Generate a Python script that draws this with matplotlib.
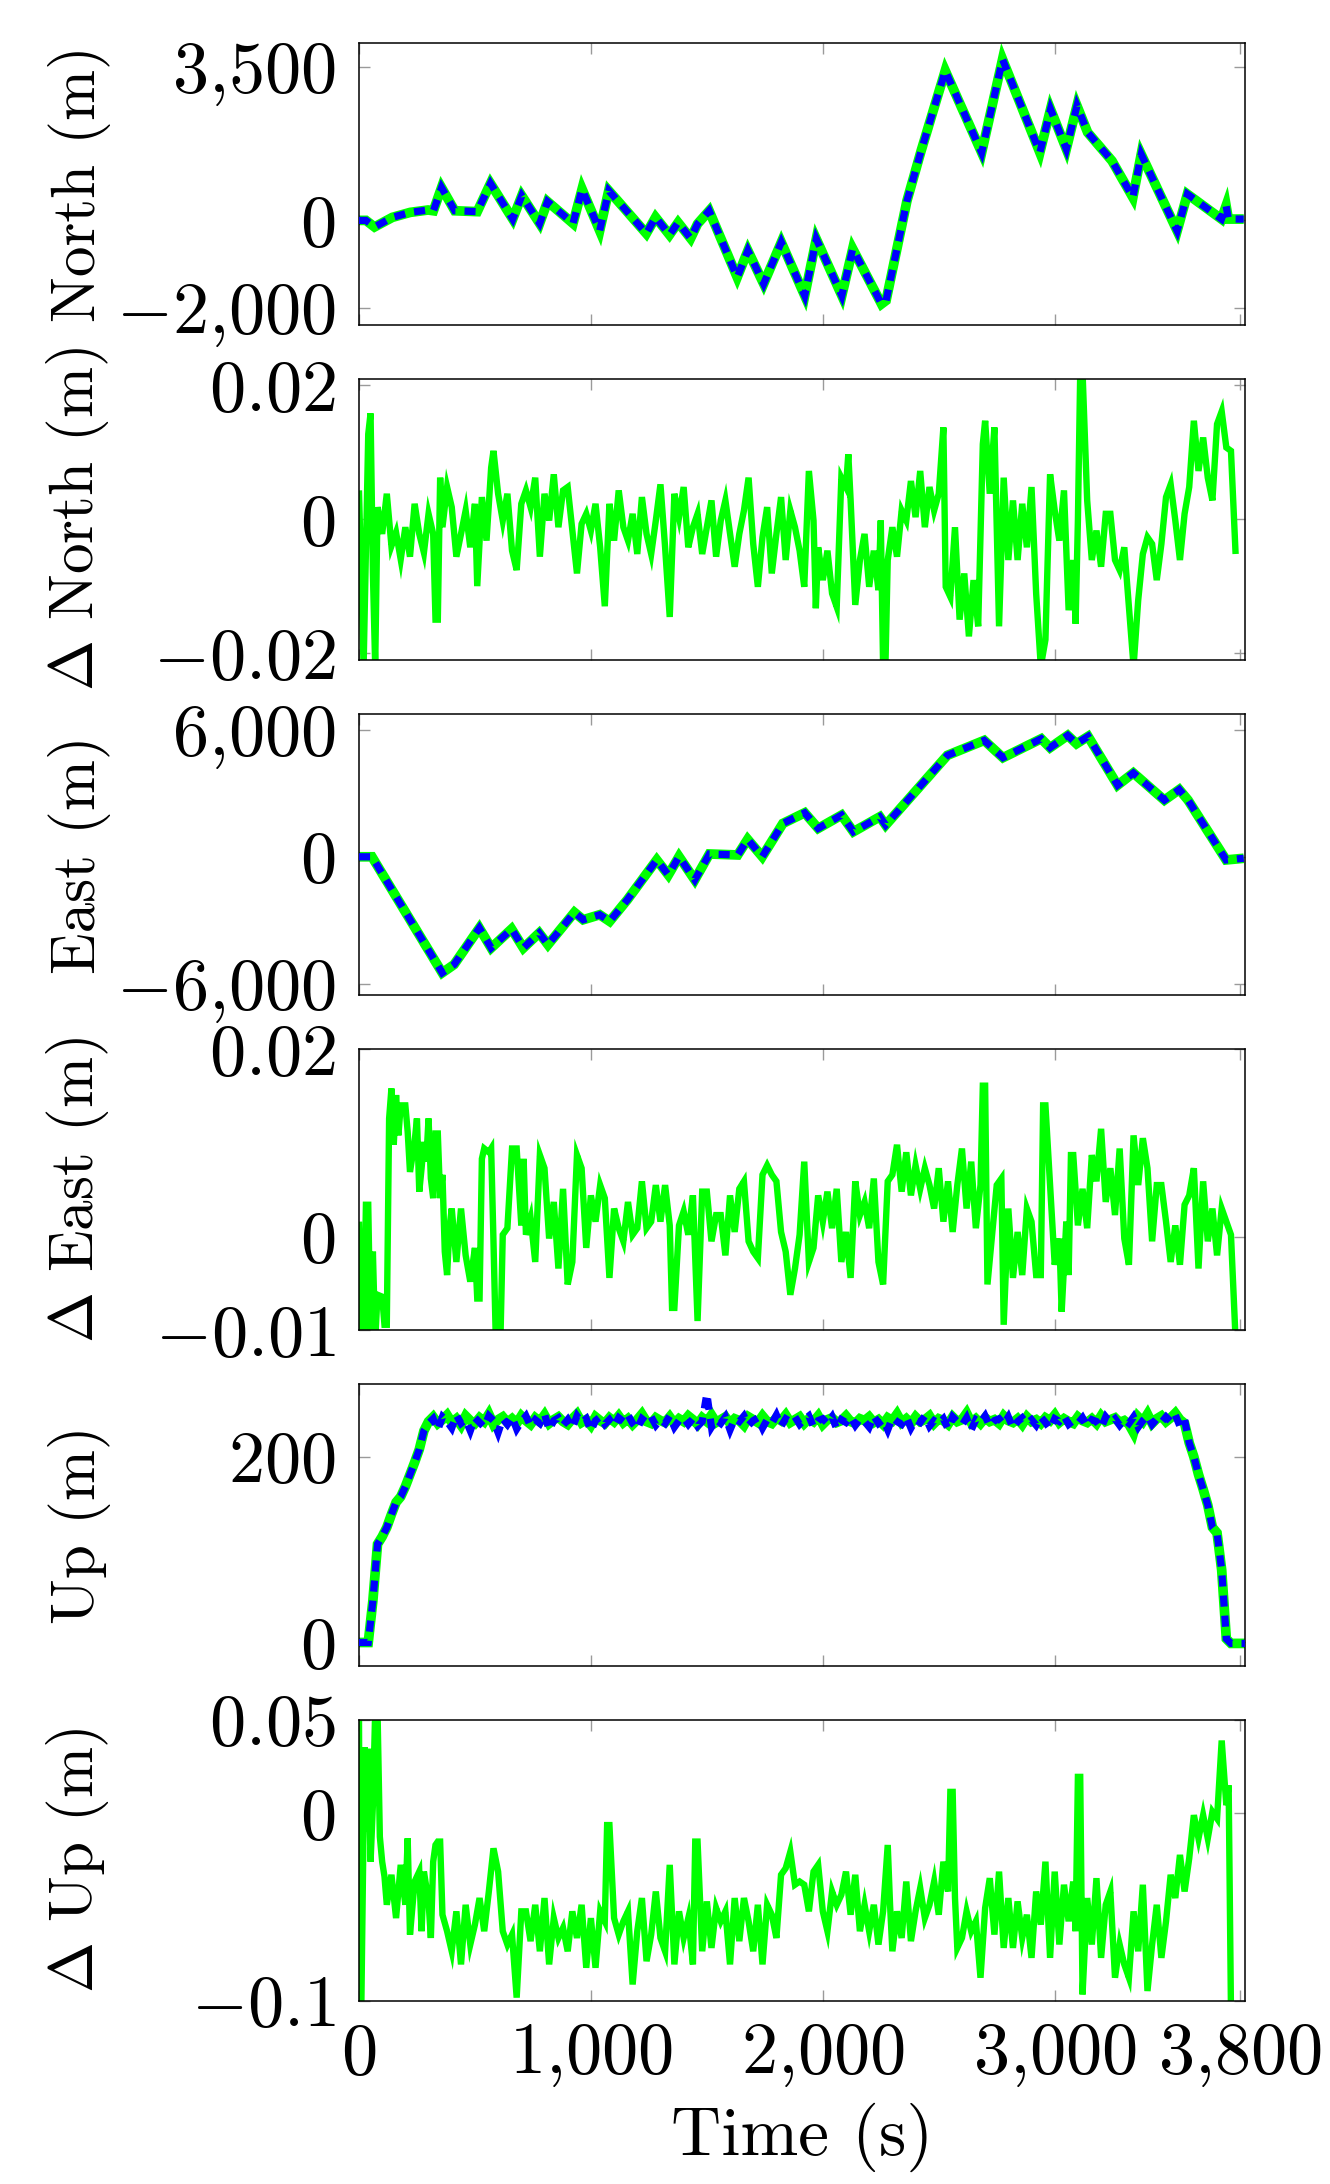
import numpy as np
import matplotlib
matplotlib.use("Agg")
import matplotlib.pyplot as plt
from matplotlib.ticker import FixedLocator, FixedFormatter

plt.rcParams['font.family'] = ['cmr10', 'DejaVu Serif']
plt.rcParams['mathtext.fontset'] = 'cm'
plt.rcParams['axes.formatter.use_mathtext'] = True
plt.rcParams['lines.scale_dashes'] = False

GREEN = '#00ff00'
BLUE = '#0000ff'

# ---------------- data ----------------
# North position (m): (time s, value)
north = [(0, 0), (30, 0), (67, -150), (144, 69), (221, 183), (298, 237), (321, 220),
         (356, 750), (413, 220), (510, 200), (567, 845), (663, 30), (702, 564),
         (779, -70), (813, 430), (923, -70), (962, 716), (1038, -235), (1077, 680),
         (1239, -300), (1279, 70), (1339, -330), (1376, -50), (1430, -410),
         (1460, -80), (1510, 220), (1631, -1300), (1677, -690), (1745, -1450),
         (1821, -500), (1922, -1720), (1972, -425), (2082, -1720), (2129, -650),
         (2253, -1910), (2273, -1830), (2363, 450), (2424, 1590), (2528, 3420),
         (2685, 1550), (2775, 3680), (2936, 1550), (2982, 2540), (3050, 1630),
         (3096, 2620), (3142, 2010), (3247, 1360), (3337, 525), (3373, 1510),
         (3528, -240), (3572, 600), (3719, 30), (3739, 335), (3749, 30), (3815, 30)]

# East position (m)
east = [(0, 0), (56, 0), (359, -5480), (410, -5090), (519, -3365), (570, -4306),
        (658, -3410), (709, -4306), (777, -3600), (815, -4150), (929, -2627),
        (967, -2973), (1038, -2737), (1081, -3050), (1157, -2031), (1284, -149),
        (1334, -855), (1380, 8), (1448, -1090), (1511, 133), (1633, 86), (1676, 823),
        (1739, 8), (1828, 1576), (1922, 2078), (1980, 1341), (2081, 1969),
        (2132, 1184), (2246, 1890), (2271, 1498), (2537, 4792), (2696, 5498),
        (2777, 4682), (2942, 5576), (2980, 5153), (3056, 5733), (3094, 5341),
        (3144, 5686), (3271, 3380), (3339, 3960), (3473, 2675), (3537, 3176),
        (3575, 2675), (3739, -149), (3815, -70)]

# Up position (m), sampled every 20 s from 0 to 3820 s
up_ramp = [0, 0, 0, 45, 106, 114, 124, 138, 151, 157, 168, 181, 194, 208, 228]
up_tail = [215, 200, 181, 165, 148, 124, 118, 78, 4, -1, -1, -1, -1]
up_est_plateau = [
    238, 243, 236, 240, 245, 237, 241, 234, 244, 239,
    236, 242, 238, 246, 235, 240, 243, 237, 241, 236,
    244, 239, 235, 242, 238, 245, 236, 240, 243, 238,
    235, 241, 246, 237, 240, 234, 243, 239, 236, 242,
    238, 244, 237, 241, 235, 240, 246, 238, 236, 242,
    239, 237, 243, 236, 241, 238, 244, 240, 235, 242,
    238, 245, 237, 240, 243, 236, 241, 239, 234, 243,
    240, 237, 244, 238, 236, 242, 239, 245, 237, 240,
    243, 236, 241, 238, 244, 235, 240, 242, 237, 239,
    244, 238, 236, 241, 239, 243, 237, 240, 235, 242,
    239, 246, 237, 241, 236, 243, 238, 240, 244, 236,
    241, 239, 235, 243, 238, 240, 247, 237, 241, 236,
    242, 238, 240, 236, 244, 239, 237, 241, 235, 243,
    238, 240, 236, 242, 239, 245, 237, 241, 238, 236,
    243, 239, 237, 241, 236, 244, 238, 240, 242, 237,
    239, 235, 226, 243, 238, 246, 236, 241, 244, 238,
    242, 247, 240, 236]
up_true_plateau = [
    236, 241, 229, 243, 238, 231, 245, 236, 240, 228,
    242, 237, 232, 244, 239, 226, 241, 235, 243, 230,
    238, 244, 233, 240, 236, 246, 229, 239, 242, 234,
    240, 231, 244, 237, 241, 228, 239, 243, 235, 240,
    233, 242, 238, 245, 236, 230, 241, 237, 243, 234,
    240, 236, 244, 232, 239, 242, 235, 241, 233, 238,
    268, 232, 240, 236, 243, 229, 241, 238, 244, 234,
    239, 242, 231, 240, 236, 245, 233, 241, 238, 243,
    235, 240, 244, 232, 239, 241, 236, 243, 230, 240,
    237, 243, 234, 241, 238, 232, 244, 236, 240, 229,
    242, 238, 235, 243, 231, 240, 237, 244, 233, 239,
    236, 241, 230, 243, 238, 234, 242, 229, 240, 237,
    244, 233, 239, 241, 235, 243, 231, 238, 242, 236,
    240, 234, 243, 237, 230, 241, 238, 244, 235, 239,
    236, 242, 233, 240, 238, 231, 243, 237, 241, 234,
    240, 236, 243, 232, 239, 244, 235, 241, 237, 243,
    238, 245, 233, 240]

# Delta North (mm)
dnorth = [(0, 4.3), (20, -22), (40, 12.7), (50, 15.8), (60, -8), (70, -22), (80, 1.8),
          (100, -2.2), (120, 3.8), (140, -4), (160, -2), (180, -6), (200, -1.2),
          (220, -5.6), (240, 2.3), (260, -2.2), (280, -5), (300, 0.8), (320, -2.2),
          (330, -15), (340, -15), (350, 6.2), (360, -1.2), (380, 4.8), (400, 1.8),
          (420, -5.6), (440, -2.2), (460, 1.3), (480, -4.2), (500, 2.3), (510, -10),
          (530, 3.3), (550, -3.2), (570, 7.7), (580, 10.2), (600, 3.8), (620, -0.2),
          (640, 3.8), (660, -4.7), (680, -7.6), (700, 2.3), (720, 4.3), (740, 1.8),
          (760, 6.2), (780, -5.6), (800, 3.8), (820, -0.2), (840, 6.7), (860, -1.2),
          (880, 4.3), (900, 4.8), (920, -1.7), (940, -8.1), (960, -0.7), (980, 0.8),
          (1000, -1.7), (1020, 2.3), (1040, -4.2), (1060, -13), (1080, 2.3),
          (1100, -3.2), (1120, 4.3), (1140, -1.2), (1160, -3.2), (1180, 0.8),
          (1200, -5.2), (1220, 3.3), (1240, -2.2), (1260, -5.2), (1280, -0.2),
          (1300, 5.2), (1320, -4.2), (1340, -14.6), (1360, 3.8), (1380, 0.3),
          (1400, 4.8), (1420, -4.2), (1440, -1.2), (1460, 0.8), (1480, -5.2),
          (1500, -1.2), (1520, 2.8), (1540, -5.6), (1560, -0.2), (1580, 2.8),
          (1600, -2.2), (1620, -7.1), (1640, -2.2), (1660, 1.3), (1680, 6.2),
          (1700, -3.7), (1720, -10.1), (1740, -2.7), (1760, 1.8), (1780, -8.1),
          (1800, -2.2), (1820, 3.3), (1840, -6.1), (1860, 1.3), (1880, -1.2),
          (1900, -4.7), (1920, -10.1), (1940, 7.2), (1960, -0.2), (1970, -13.3),
          (1980, -4.2), (2000, -9.1), (2020, -4.7), (2040, -11.1), (2060, -13.1),
          (2080, 6.2), (2100, 4.8), (2110, 9.7), (2120, 2.8), (2140, -12.8),
          (2160, -6.1), (2180, -2.2), (2200, -10.1), (2220, -4.7), (2240, -10.6),
          (2250, -0.2), (2260, -22), (2270, -22), (2280, -6.1), (2300, -1.2),
          (2320, -5.6), (2340, 1.3), (2360, -0.2), (2380, 5.7), (2400, 0.3),
          (2420, 7.2), (2440, -1.2), (2460, 4.8), (2480, 1.3), (2500, 3.8),
          (2520, 13.7), (2530, -10.1), (2550, -11.6), (2570, -1.2), (2590, -15),
          (2610, -8.1), (2630, -17.5), (2650, -9.1), (2670, -16), (2690, 11.2),
          (2700, 14.7), (2720, 3.8), (2740, 13.7), (2760, -16), (2780, 6.2),
          (2800, -6.1), (2820, 2.8), (2840, -6.1), (2860, 2.3), (2880, -4.2),
          (2900, 4.8), (2920, -11.1), (2940, -22), (2960, -18), (2980, 6.7),
          (3000, 1.3), (3020, -3.2), (3040, 4.3), (3060, -13.6), (3080, -6.1),
          (3090, -15.6), (3100, -0.2), (3110, 22), (3120, 22), (3140, 2.8),
          (3160, -6.1), (3180, -1.7), (3200, -7.1), (3220, 0.8), (3240, 0.8),
          (3260, -6.1), (3280, -7.6), (3300, -4.2), (3320, -13.1), (3340, -22),
          (3360, -12.1), (3380, -5.2), (3400, -2.7), (3420, -3.7), (3440, -9.1),
          (3460, -3.7), (3480, 3.3), (3500, 5.2), (3520, -0.2), (3540, -6.1),
          (3560, 0.8), (3580, 4.8), (3600, 14.7), (3620, 7.2), (3640, 12.2),
          (3660, 6.2), (3680, 2.8), (3700, 14.2), (3720, 16.1), (3740, 10.7),
          (3760, 10.2), (3780, -5.2)]

# Delta East (mm)
deast = [(0, 1.6), (10, -11), (20, -11), (30, 3.4), (40, 3.4), (50, -11), (60, -1.6),
         (70, -11), (80, -6.2), (100, -6.4), (110, -9.4), (120, -9.4), (130, 12.6),
         (140, 15.8), (150, 9.8), (160, 15.1), (170, 10.8), (180, 14), (200, 14),
         (210, 11.2), (220, 6.9), (240, 10.1), (250, 12.6), (260, 4.8), (270, 7.3),
         (280, 10.1), (290, 8), (300, 12.6), (310, 6.2), (320, 4.1), (330, 11),
         (340, 11), (350, 4.1), (360, 6.6), (370, -1.6), (380, -4.1), (390, 0.9),
         (400, 3), (420, -2.7), (440, 3), (460, -2), (480, -4.8), (500, -1.2),
         (510, -6.6), (520, -6.6), (530, 8.3), (540, 9.4), (560, 9), (570, 9.4),
         (580, -0.5), (590, -11), (600, -11), (610, -11), (620, 0.2), (640, 0.9),
         (660, 9.4), (680, 9.4), (700, 1.2), (710, 8.3), (720, 0.2), (740, 2),
         (760, -2.7), (780, 8.7), (800, 7.3), (820, -0.2), (840, 3.7), (860, -3.4),
         (880, 5.1), (900, -5.1), (920, -2.7), (940, 8.7), (960, 7.3), (980, -1.2),
         (1000, 4.4), (1020, 1.6), (1040, 5.5), (1060, 4.1), (1080, -4.4), (1100, 3),
         (1120, 0.9), (1140, -0.5), (1160, 3.7), (1180, 0.2), (1200, 0.9),
         (1220, 5.9), (1240, 0.9), (1260, 1.6), (1280, 5.5), (1300, 1.6),
         (1320, 5.5), (1340, 1.2), (1350, -7.6), (1360, -7.6), (1380, 1.2),
         (1400, 2.7), (1420, 0.2), (1440, 4.4), (1460, -9), (1480, 4.8),
         (1500, 4.8), (1520, -0.5), (1540, 2.3), (1560, 2.3), (1580, -2),
         (1600, 4.4), (1620, 0.5), (1640, 5.1), (1660, 5.9), (1680, -0.5),
         (1700, -1.6), (1720, -2.3), (1740, 6.6), (1760, 7.6), (1780, 6.6),
         (1800, 5.9), (1820, 0.5), (1840, -1.6), (1860, -6.2), (1880, -3.4),
         (1900, 0.2), (1920, 8), (1940, -2.7), (1960, -1.2), (1980, 4.4),
         (2000, 1.6), (2020, 4.8), (2040, 0.9), (2060, 5.1), (2080, -2.7),
         (2100, 0.5), (2120, -4.4), (2140, 5.9), (2160, 2.3), (2180, 3.7),
         (2200, 0.9), (2220, 6.2), (2240, -2.7), (2260, -5.1), (2280, 5.9),
         (2300, 6.6), (2320, 9.8), (2340, 4.8), (2360, 9), (2380, 4.4),
         (2400, 7.6), (2420, 5.1), (2440, 7.3), (2460, 5.5), (2480, 3),
         (2500, 7.3), (2520, 1.6), (2540, 5.9), (2560, 0.5), (2580, 5.5),
         (2600, 9.4), (2620, 3), (2640, 8), (2660, 0.9), (2680, 5.5),
         (2690, 16.1), (2700, 16.1), (2710, -5.1), (2730, 0.2), (2750, 5.5),
         (2770, 6.2), (2780, -9.4), (2800, 3), (2820, -4.4), (2840, 0.5),
         (2860, -4.1), (2880, 3), (2900, 1.6), (2920, -4.1), (2940, -4.1),
         (2950, 14), (2960, 14), (2980, 5.5), (3000, -3), (3020, -0.2),
         (3030, -8), (3050, 1.6), (3060, -4.1), (3070, 8.7), (3080, 8.7),
         (3100, 1.2), (3120, 5.1), (3140, 0.9), (3160, 8.7), (3180, 5.9),
         (3200, 11.5), (3220, 3.7), (3240, 7.3), (3260, 2.3), (3280, 9.4),
         (3300, -0.2), (3320, -3), (3340, 10.8), (3360, 5.5), (3380, 10.5),
         (3400, 7.3), (3420, -0.5), (3440, 5.5), (3460, 5.5), (3480, 1.6),
         (3500, -2.7), (3520, 1.2), (3540, -3), (3560, 3.4), (3580, 4.4),
         (3600, 7.3), (3620, -3.4), (3640, 5.9), (3660, -0.5), (3680, 3),
         (3700, -2), (3720, 3), (3740, 1.6), (3760, 0.2), (3780, -11)]

# Delta Up (mm)
dup = [(0, 55), (5, -105), (10, -105), (20, -4.4), (25, 35.4), (30, -9.7), (40, 34.5),
       (50, -25.7), (60, 4.4), (70, 55), (80, 55), (90, -12.4), (100, -25.7),
       (110, -33.6), (120, -48.7), (140, -32.7), (160, -55.8), (180, -27.4),
       (200, -48.7), (210, -13.3), (220, -64.6), (240, -36.3), (260, -31),
       (270, -62.8), (280, -31), (300, -46.9), (310, -66.4), (320, -25.7),
       (330, -16.8), (340, -15), (350, -15), (360, -54), (380, -62.8), (400, -73.5),
       (420, -52.2), (440, -80.5), (460, -48.7), (480, -69.9), (500, -59.3),
       (520, -45.1), (540, -62.8), (560, -41.6), (580, -18.6), (600, -31),
       (620, -62.8), (640, -69.9), (660, -64.6), (680, -98.2), (700, -52.2),
       (720, -52.2), (740, -68.1), (760, -48.7), (780, -73.5), (800, -45.1),
       (820, -80.5), (840, -55.8), (860, -66.4), (880, -61), (900, -73.5),
       (920, -52.2), (940, -66.4), (960, -48.7), (980, -82.3), (1000, -55.8),
       (1020, -82.3), (1040, -52.2), (1060, -57.5), (1070, -6.2), (1080, -6.2),
       (1100, -55.8), (1120, -64.6), (1140, -57.5), (1160, -52.2), (1180, -91.2),
       (1200, -62.8), (1220, -45.1), (1240, -78.8), (1260, -64.6), (1280, -41.6),
       (1300, -66.4), (1320, -73.5), (1340, -27.4), (1360, -80.5), (1380, -52.2),
       (1400, -66.4), (1420, -55.8), (1440, -80.5), (1450, -15), (1460, -15),
       (1480, -73.5), (1500, -46.9), (1520, -71.7), (1540, -50.4), (1560, -57.5),
       (1580, -52.2), (1600, -80.5), (1620, -45.1), (1640, -68.1), (1660, -45.1),
       (1680, -57.5), (1700, -73.5), (1720, -48.7), (1740, -80.5), (1760, -48.7),
       (1780, -54), (1800, -66.4), (1820, -32.7), (1840, -29.2), (1860, -20.4),
       (1880, -38), (1900, -36.3), (1920, -38), (1940, -52.2), (1960, -31),
       (1980, -27.4), (2000, -52.2), (2020, -62.8), (2040, -41.6), (2060, -48.7),
       (2080, -43.4), (2100, -31), (2120, -54), (2140, -32.7), (2160, -62.8),
       (2180, -48.7), (2200, -62.8), (2220, -48.7), (2240, -69.9), (2260, -52.2),
       (2280, -16.8), (2290, -48.7), (2300, -73.5), (2320, -52.2), (2340, -66.4),
       (2360, -36.3), (2380, -68.1), (2400, -52.2), (2420, -39.8), (2440, -55.8),
       (2460, -48.7), (2480, -36.3), (2500, -54), (2520, -25.7), (2540, -41.6),
       (2550, 11.5), (2560, 11.5), (2570, -45.1), (2580, -71.7), (2600, -66.4),
       (2620, -52.2), (2640, -62.8), (2660, -57.5), (2680, -87.6), (2700, -50.4),
       (2720, -34.5), (2740, -64.6), (2760, -31), (2780, -71.7), (2800, -45.1),
       (2820, -71.7), (2840, -46.9), (2860, -66.4), (2880, -54), (2900, -77),
       (2920, -41.6), (2940, -59.3), (2960, -25.7), (2980, -77), (3000, -31),
       (3020, -69.9), (3040, -38), (3060, -57.5), (3080, -36.3), (3090, -62.8),
       (3100, 19.5), (3110, 19.5), (3120, -96.5), (3140, -45.1), (3160, -69.9),
       (3180, -34.5), (3200, -77), (3220, -48.7), (3240, -41.6), (3260, -87.6),
       (3280, -69.9), (3300, -80.5), (3320, -87.6), (3340, -52.2), (3360, -73.5),
       (3380, -38), (3400, -94.7), (3420, -69.9), (3440, -48.7), (3460, -77),
       (3480, -57.5), (3500, -32.7), (3520, -45.1), (3540, -22.1), (3560, -41.6),
       (3580, -23.9), (3600, -0.9), (3620, -13.3), (3640, -0.9), (3660, -13.3),
       (3680, 0.9), (3700, -2.7), (3720, 38.9), (3740, 4.4), (3750, 15),
       (3760, -105)]

x_ticks = [0, 1000, 2000, 3000, 3800]
x_ticklabels = ['$0$', '$1{,}000$', '$2{,}000$', '$3{,}000$', '$3{,}800$']

panels = [
    dict(label='North (m)', ylim=(-2380, 4048), yticks=[-2000, 0, 3500],
         yticklabels=['$-2{,}000$', '$0$', '$3{,}500$']),
    dict(label=r'$\Delta$ North (m)', ylim=(-0.021, 0.021), yticks=[-0.02, 0, 0.02],
         yticklabels=['$-0.02$', '$0$', '$0.02$']),
    dict(label='East (m)', ylim=(-6533, 6753), yticks=[-6000, 0, 6000],
         yticklabels=['$-6{,}000$', '$0$', '$6{,}000$']),
    dict(label=r'$\Delta$ East (m)', ylim=(-0.010, 0.020), yticks=[-0.01, 0, 0.02],
         yticklabels=['$-0.01$', '$0$', '$0.02$']),
    dict(label='Up (m)', ylim=(-25, 278), yticks=[0, 200],
         yticklabels=['$0$', '$200$']),
    dict(label=r'$\Delta$ Up (m)', ylim=(-0.100, 0.050), yticks=[-0.1, 0, 0.05],
         yticklabels=['$-0.1$', '$0$', '$0.05$']),
]

# ---------------- figure ----------------
fig = plt.figure(figsize=(13.3, 21.84), dpi=100)
gs = fig.add_gridspec(6, 1, left=0.2699, right=0.936, top=0.9802,
                      bottom=0.0838, hspace=0.192)
axes = [fig.add_subplot(gs[i]) for i in range(6)]


def unzip(pairs, scale=1.0):
    t = np.array([p[0] for p in pairs], dtype=float)
    v = np.array([p[1] for p in pairs], dtype=float) * scale
    return t, v


def pos_lines(ax, t_g, v_g, t_b, v_b):
    ax.plot(t_g, v_g, color=GREEN, lw=7.0, solid_joinstyle='miter',
            solid_capstyle='butt', zorder=2)
    ax.plot(t_b, v_b, color=BLUE, lw=5.2, linestyle=(0, (8, 6.5)),
            dash_joinstyle='miter', dash_capstyle='butt', zorder=3)


def delta_line(ax, t, v):
    ax.plot(t, v, color=GREEN, lw=4.6, solid_joinstyle='miter',
            solid_capstyle='butt', zorder=2)


tn, vn = unzip(north)
pos_lines(axes[0], tn, vn, tn, vn)

t, v = unzip(dnorth, 1e-3)
delta_line(axes[1], t, v)

te, ve = unzip(east)
pos_lines(axes[2], te, ve, te, ve)

t, v = unzip(deast, 1e-3)
delta_line(axes[3], t, v)

up_t = np.arange(0, 3821, 20)
up_est = np.array(up_ramp + up_est_plateau + up_tail, dtype=float)
up_true = np.array(up_ramp + up_true_plateau + up_tail, dtype=float)
pos_lines(axes[4], up_t, up_est, up_t, up_true)

t, v = unzip(dup, 1e-3)
delta_line(axes[5], t, v)

for i, (ax, p) in enumerate(zip(axes, panels)):
    ax.set_xlim(0, 3820)
    ax.set_ylim(*p['ylim'])
    ax.xaxis.set_major_locator(FixedLocator(x_ticks))
    ax.yaxis.set_major_locator(FixedLocator(p['yticks']))
    ax.yaxis.set_major_formatter(FixedFormatter(p['yticklabels']))
    ax.tick_params(which='major', direction='in', length=8, width=1.0,
                   color='#9a9a9a', top=True, right=True, labelsize=52, pad=16)
    ax.tick_params(axis='y', pad=17)
    for sp in ax.spines.values():
        sp.set_linewidth(1.1)
        sp.set_color('black')
    ax.set_ylabel(p['label'], fontsize=44)
    ax.yaxis.set_label_coords(-0.28, 0.5)
    if i < 5:
        ax.tick_params(labelbottom=False)
    else:
        ax.xaxis.set_major_formatter(FixedFormatter(x_ticklabels))
        ax.set_xlabel('Time (s)', fontsize=50)
        ax.xaxis.set_label_coords(0.5, -0.36)

fig.savefig('out.png', dpi=100)
